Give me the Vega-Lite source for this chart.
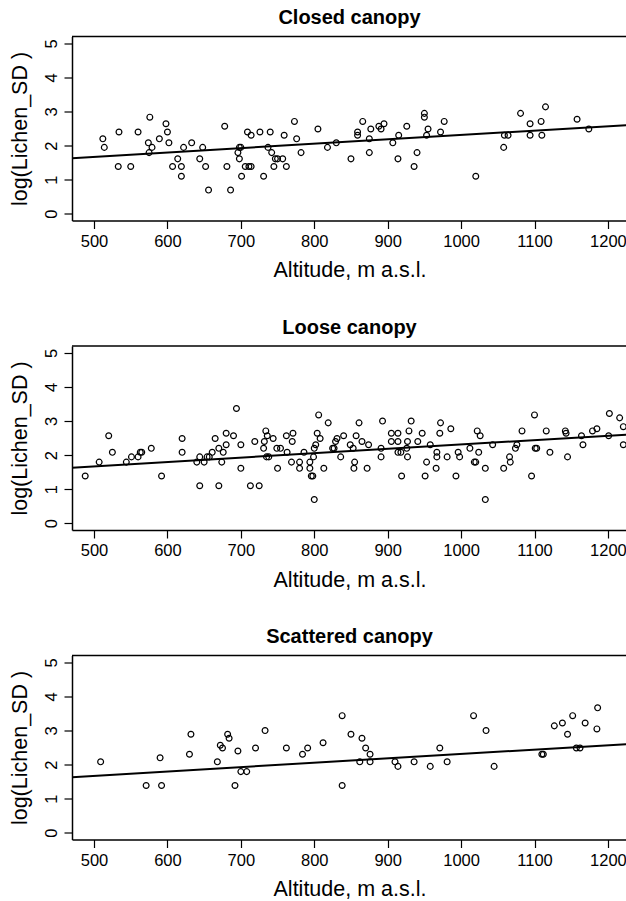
{
  "$schema": "https://vega.github.io/schema/vega-lite/v6.json",
  "background": "white",
  "padding": {"left": 9, "top": 7.5, "right": 0, "bottom": 0},
  "bounds": "flush",
  "spacing": 125.5,
  "datasets": {
    "closed": [
      {"altitude": 512, "log_lichen_sd": 2.197}, {"altitude": 514, "log_lichen_sd": 1.946}, {"altitude": 533, "log_lichen_sd": 1.386},
      {"altitude": 534, "log_lichen_sd": 2.398}, {"altitude": 550, "log_lichen_sd": 1.386}, {"altitude": 560, "log_lichen_sd": 2.398},
      {"altitude": 574, "log_lichen_sd": 2.079}, {"altitude": 575, "log_lichen_sd": 1.792}, {"altitude": 576, "log_lichen_sd": 2.833},
      {"altitude": 579, "log_lichen_sd": 1.946}, {"altitude": 589, "log_lichen_sd": 2.197}, {"altitude": 598, "log_lichen_sd": 2.639},
      {"altitude": 600, "log_lichen_sd": 2.398}, {"altitude": 602, "log_lichen_sd": 2.079}, {"altitude": 607, "log_lichen_sd": 1.386},
      {"altitude": 614, "log_lichen_sd": 1.609}, {"altitude": 619, "log_lichen_sd": 1.386}, {"altitude": 619, "log_lichen_sd": 1.099},
      {"altitude": 622, "log_lichen_sd": 1.946}, {"altitude": 633, "log_lichen_sd": 2.079}, {"altitude": 644, "log_lichen_sd": 1.609},
      {"altitude": 648, "log_lichen_sd": 1.946}, {"altitude": 652, "log_lichen_sd": 1.386}, {"altitude": 656, "log_lichen_sd": 0.693},
      {"altitude": 678, "log_lichen_sd": 2.565}, {"altitude": 681, "log_lichen_sd": 1.386}, {"altitude": 686, "log_lichen_sd": 0.693},
      {"altitude": 696, "log_lichen_sd": 1.792}, {"altitude": 698, "log_lichen_sd": 1.946}, {"altitude": 700, "log_lichen_sd": 1.946},
      {"altitude": 698, "log_lichen_sd": 1.609}, {"altitude": 701, "log_lichen_sd": 1.099}, {"altitude": 706, "log_lichen_sd": 1.386},
      {"altitude": 709, "log_lichen_sd": 2.398}, {"altitude": 711, "log_lichen_sd": 1.386}, {"altitude": 714, "log_lichen_sd": 1.386},
      {"altitude": 714, "log_lichen_sd": 2.303}, {"altitude": 726, "log_lichen_sd": 2.398}, {"altitude": 731, "log_lichen_sd": 1.099},
      {"altitude": 737, "log_lichen_sd": 1.946}, {"altitude": 740, "log_lichen_sd": 2.398}, {"altitude": 742, "log_lichen_sd": 1.792},
      {"altitude": 745, "log_lichen_sd": 1.386}, {"altitude": 747, "log_lichen_sd": 1.609}, {"altitude": 750, "log_lichen_sd": 1.609},
      {"altitude": 757, "log_lichen_sd": 1.609}, {"altitude": 759, "log_lichen_sd": 2.303}, {"altitude": 762, "log_lichen_sd": 1.386},
      {"altitude": 773, "log_lichen_sd": 2.708}, {"altitude": 776, "log_lichen_sd": 2.197}, {"altitude": 782, "log_lichen_sd": 1.792},
      {"altitude": 805, "log_lichen_sd": 2.485}, {"altitude": 818, "log_lichen_sd": 1.946}, {"altitude": 830, "log_lichen_sd": 2.079},
      {"altitude": 850, "log_lichen_sd": 1.609}, {"altitude": 859, "log_lichen_sd": 2.398}, {"altitude": 859, "log_lichen_sd": 2.303},
      {"altitude": 866, "log_lichen_sd": 2.708}, {"altitude": 875, "log_lichen_sd": 2.197}, {"altitude": 875, "log_lichen_sd": 1.792},
      {"altitude": 877, "log_lichen_sd": 2.485}, {"altitude": 888, "log_lichen_sd": 2.565}, {"altitude": 891, "log_lichen_sd": 2.485},
      {"altitude": 895, "log_lichen_sd": 2.639}, {"altitude": 907, "log_lichen_sd": 2.079}, {"altitude": 914, "log_lichen_sd": 1.609},
      {"altitude": 915, "log_lichen_sd": 2.303}, {"altitude": 926, "log_lichen_sd": 2.565}, {"altitude": 936, "log_lichen_sd": 1.386},
      {"altitude": 940, "log_lichen_sd": 1.792}, {"altitude": 950, "log_lichen_sd": 2.944}, {"altitude": 950, "log_lichen_sd": 2.833},
      {"altitude": 953, "log_lichen_sd": 2.303}, {"altitude": 955, "log_lichen_sd": 2.485}, {"altitude": 972, "log_lichen_sd": 2.398},
      {"altitude": 977, "log_lichen_sd": 2.708}, {"altitude": 1020, "log_lichen_sd": 1.099}, {"altitude": 1058, "log_lichen_sd": 1.946},
      {"altitude": 1059, "log_lichen_sd": 2.303}, {"altitude": 1064, "log_lichen_sd": 2.303}, {"altitude": 1081, "log_lichen_sd": 2.944},
      {"altitude": 1094, "log_lichen_sd": 2.639}, {"altitude": 1094, "log_lichen_sd": 2.303}, {"altitude": 1109, "log_lichen_sd": 2.708},
      {"altitude": 1110, "log_lichen_sd": 2.303}, {"altitude": 1115, "log_lichen_sd": 3.135}, {"altitude": 1158, "log_lichen_sd": 2.773},
      {"altitude": 1174, "log_lichen_sd": 2.485}
    ],
    "loose": [
      {"altitude": 488, "log_lichen_sd": 1.386}, {"altitude": 507, "log_lichen_sd": 1.792}, {"altitude": 520, "log_lichen_sd": 2.565},
      {"altitude": 525, "log_lichen_sd": 2.079}, {"altitude": 544, "log_lichen_sd": 1.792}, {"altitude": 551, "log_lichen_sd": 1.946},
      {"altitude": 560, "log_lichen_sd": 1.946}, {"altitude": 563, "log_lichen_sd": 2.079}, {"altitude": 565, "log_lichen_sd": 2.079},
      {"altitude": 578, "log_lichen_sd": 2.197}, {"altitude": 592, "log_lichen_sd": 1.386}, {"altitude": 620, "log_lichen_sd": 2.485},
      {"altitude": 620, "log_lichen_sd": 2.079}, {"altitude": 640, "log_lichen_sd": 1.792}, {"altitude": 644, "log_lichen_sd": 1.946},
      {"altitude": 644, "log_lichen_sd": 1.099}, {"altitude": 650, "log_lichen_sd": 1.792}, {"altitude": 654, "log_lichen_sd": 1.946},
      {"altitude": 657, "log_lichen_sd": 1.946}, {"altitude": 661, "log_lichen_sd": 2.079}, {"altitude": 665, "log_lichen_sd": 2.485},
      {"altitude": 670, "log_lichen_sd": 2.197}, {"altitude": 670, "log_lichen_sd": 1.099}, {"altitude": 674, "log_lichen_sd": 1.792},
      {"altitude": 676, "log_lichen_sd": 2.079}, {"altitude": 680, "log_lichen_sd": 2.639}, {"altitude": 680, "log_lichen_sd": 2.303},
      {"altitude": 690, "log_lichen_sd": 2.565}, {"altitude": 694, "log_lichen_sd": 3.367}, {"altitude": 700, "log_lichen_sd": 2.303},
      {"altitude": 700, "log_lichen_sd": 1.609}, {"altitude": 713, "log_lichen_sd": 1.099}, {"altitude": 719, "log_lichen_sd": 2.398},
      {"altitude": 725, "log_lichen_sd": 1.099}, {"altitude": 731, "log_lichen_sd": 2.197}, {"altitude": 732, "log_lichen_sd": 2.398},
      {"altitude": 734, "log_lichen_sd": 2.708}, {"altitude": 736, "log_lichen_sd": 2.565}, {"altitude": 735, "log_lichen_sd": 1.946},
      {"altitude": 738, "log_lichen_sd": 1.946}, {"altitude": 744, "log_lichen_sd": 2.485}, {"altitude": 749, "log_lichen_sd": 2.197},
      {"altitude": 750, "log_lichen_sd": 1.609}, {"altitude": 754, "log_lichen_sd": 2.197}, {"altitude": 762, "log_lichen_sd": 2.565},
      {"altitude": 763, "log_lichen_sd": 2.079}, {"altitude": 769, "log_lichen_sd": 1.792}, {"altitude": 770, "log_lichen_sd": 2.398},
      {"altitude": 771, "log_lichen_sd": 2.639}, {"altitude": 780, "log_lichen_sd": 1.792}, {"altitude": 780, "log_lichen_sd": 1.609},
      {"altitude": 786, "log_lichen_sd": 2.079}, {"altitude": 794, "log_lichen_sd": 1.792}, {"altitude": 794, "log_lichen_sd": 1.609},
      {"altitude": 796, "log_lichen_sd": 1.386}, {"altitude": 798, "log_lichen_sd": 1.386}, {"altitude": 799, "log_lichen_sd": 1.946},
      {"altitude": 800, "log_lichen_sd": 2.197}, {"altitude": 800, "log_lichen_sd": 0.693}, {"altitude": 802, "log_lichen_sd": 2.303},
      {"altitude": 804, "log_lichen_sd": 2.639}, {"altitude": 806, "log_lichen_sd": 3.178}, {"altitude": 808, "log_lichen_sd": 2.485},
      {"altitude": 813, "log_lichen_sd": 1.609}, {"altitude": 819, "log_lichen_sd": 2.944}, {"altitude": 825, "log_lichen_sd": 2.197},
      {"altitude": 827, "log_lichen_sd": 2.197}, {"altitude": 829, "log_lichen_sd": 2.398}, {"altitude": 831, "log_lichen_sd": 2.485},
      {"altitude": 836, "log_lichen_sd": 1.946}, {"altitude": 840, "log_lichen_sd": 2.565}, {"altitude": 849, "log_lichen_sd": 2.303},
      {"altitude": 853, "log_lichen_sd": 2.197}, {"altitude": 855, "log_lichen_sd": 1.792}, {"altitude": 854, "log_lichen_sd": 1.609},
      {"altitude": 857, "log_lichen_sd": 2.565}, {"altitude": 861, "log_lichen_sd": 2.944}, {"altitude": 865, "log_lichen_sd": 2.398},
      {"altitude": 872, "log_lichen_sd": 1.609}, {"altitude": 874, "log_lichen_sd": 2.303}, {"altitude": 891, "log_lichen_sd": 2.197},
      {"altitude": 891, "log_lichen_sd": 1.946}, {"altitude": 893, "log_lichen_sd": 2.996}, {"altitude": 905, "log_lichen_sd": 2.639},
      {"altitude": 905, "log_lichen_sd": 2.398}, {"altitude": 914, "log_lichen_sd": 2.639}, {"altitude": 914, "log_lichen_sd": 2.398},
      {"altitude": 914, "log_lichen_sd": 2.079}, {"altitude": 918, "log_lichen_sd": 2.079}, {"altitude": 919, "log_lichen_sd": 1.386},
      {"altitude": 926, "log_lichen_sd": 2.197}, {"altitude": 927, "log_lichen_sd": 1.946}, {"altitude": 927, "log_lichen_sd": 2.398},
      {"altitude": 929, "log_lichen_sd": 2.708}, {"altitude": 932, "log_lichen_sd": 2.996}, {"altitude": 941, "log_lichen_sd": 2.398},
      {"altitude": 947, "log_lichen_sd": 2.639}, {"altitude": 951, "log_lichen_sd": 1.386}, {"altitude": 953, "log_lichen_sd": 1.792},
      {"altitude": 958, "log_lichen_sd": 2.303}, {"altitude": 966, "log_lichen_sd": 1.609}, {"altitude": 967, "log_lichen_sd": 2.079},
      {"altitude": 967, "log_lichen_sd": 1.946}, {"altitude": 971, "log_lichen_sd": 2.639}, {"altitude": 972, "log_lichen_sd": 2.944},
      {"altitude": 981, "log_lichen_sd": 1.946}, {"altitude": 986, "log_lichen_sd": 2.773}, {"altitude": 993, "log_lichen_sd": 1.386},
      {"altitude": 996, "log_lichen_sd": 2.079}, {"altitude": 998, "log_lichen_sd": 1.946}, {"altitude": 1012, "log_lichen_sd": 2.197},
      {"altitude": 1018, "log_lichen_sd": 1.792}, {"altitude": 1020, "log_lichen_sd": 1.792}, {"altitude": 1022, "log_lichen_sd": 2.708},
      {"altitude": 1024, "log_lichen_sd": 2.079}, {"altitude": 1026, "log_lichen_sd": 2.565}, {"altitude": 1033, "log_lichen_sd": 1.609},
      {"altitude": 1033, "log_lichen_sd": 0.693}, {"altitude": 1043, "log_lichen_sd": 2.303}, {"altitude": 1058, "log_lichen_sd": 1.609},
      {"altitude": 1066, "log_lichen_sd": 1.946}, {"altitude": 1067, "log_lichen_sd": 1.792}, {"altitude": 1074, "log_lichen_sd": 2.197},
      {"altitude": 1076, "log_lichen_sd": 2.303}, {"altitude": 1083, "log_lichen_sd": 2.708}, {"altitude": 1096, "log_lichen_sd": 1.386},
      {"altitude": 1100, "log_lichen_sd": 3.178}, {"altitude": 1101, "log_lichen_sd": 2.197}, {"altitude": 1103, "log_lichen_sd": 2.197},
      {"altitude": 1116, "log_lichen_sd": 2.708}, {"altitude": 1121, "log_lichen_sd": 2.079}, {"altitude": 1142, "log_lichen_sd": 2.708},
      {"altitude": 1143, "log_lichen_sd": 2.639}, {"altitude": 1145, "log_lichen_sd": 1.946}, {"altitude": 1164, "log_lichen_sd": 2.565},
      {"altitude": 1166, "log_lichen_sd": 2.303}, {"altitude": 1179, "log_lichen_sd": 2.708}, {"altitude": 1185, "log_lichen_sd": 2.773},
      {"altitude": 1201, "log_lichen_sd": 2.565}, {"altitude": 1202, "log_lichen_sd": 3.219}, {"altitude": 1216, "log_lichen_sd": 3.091},
      {"altitude": 1221, "log_lichen_sd": 2.833}, {"altitude": 1221, "log_lichen_sd": 2.303}
    ],
    "scattered": [
      {"altitude": 509, "log_lichen_sd": 2.079}, {"altitude": 571, "log_lichen_sd": 1.386}, {"altitude": 590, "log_lichen_sd": 2.197},
      {"altitude": 592, "log_lichen_sd": 1.386}, {"altitude": 630, "log_lichen_sd": 2.303}, {"altitude": 632, "log_lichen_sd": 2.890},
      {"altitude": 668, "log_lichen_sd": 2.079}, {"altitude": 672, "log_lichen_sd": 2.565}, {"altitude": 675, "log_lichen_sd": 2.485},
      {"altitude": 682, "log_lichen_sd": 2.890}, {"altitude": 684, "log_lichen_sd": 2.773}, {"altitude": 692, "log_lichen_sd": 1.386},
      {"altitude": 696, "log_lichen_sd": 2.398}, {"altitude": 700, "log_lichen_sd": 1.792}, {"altitude": 708, "log_lichen_sd": 1.792},
      {"altitude": 720, "log_lichen_sd": 2.485}, {"altitude": 733, "log_lichen_sd": 2.996}, {"altitude": 762, "log_lichen_sd": 2.485},
      {"altitude": 784, "log_lichen_sd": 2.303}, {"altitude": 791, "log_lichen_sd": 2.485}, {"altitude": 812, "log_lichen_sd": 2.639},
      {"altitude": 838, "log_lichen_sd": 3.434}, {"altitude": 838, "log_lichen_sd": 1.386}, {"altitude": 850, "log_lichen_sd": 2.890},
      {"altitude": 862, "log_lichen_sd": 2.079}, {"altitude": 865, "log_lichen_sd": 2.773}, {"altitude": 870, "log_lichen_sd": 2.485},
      {"altitude": 876, "log_lichen_sd": 2.303}, {"altitude": 876, "log_lichen_sd": 2.079}, {"altitude": 910, "log_lichen_sd": 2.079},
      {"altitude": 914, "log_lichen_sd": 1.946}, {"altitude": 936, "log_lichen_sd": 2.079}, {"altitude": 958, "log_lichen_sd": 1.946},
      {"altitude": 971, "log_lichen_sd": 2.485}, {"altitude": 981, "log_lichen_sd": 2.079}, {"altitude": 1017, "log_lichen_sd": 3.434},
      {"altitude": 1034, "log_lichen_sd": 2.996}, {"altitude": 1045, "log_lichen_sd": 1.946}, {"altitude": 1110, "log_lichen_sd": 2.303},
      {"altitude": 1112, "log_lichen_sd": 2.303}, {"altitude": 1127, "log_lichen_sd": 3.135}, {"altitude": 1138, "log_lichen_sd": 3.219},
      {"altitude": 1145, "log_lichen_sd": 2.890}, {"altitude": 1152, "log_lichen_sd": 3.434}, {"altitude": 1157, "log_lichen_sd": 2.485},
      {"altitude": 1162, "log_lichen_sd": 2.485}, {"altitude": 1169, "log_lichen_sd": 3.219}, {"altitude": 1185, "log_lichen_sd": 3.045},
      {"altitude": 1186, "log_lichen_sd": 3.664}
    ],
    "fit": [
      {"altitude": 470, "fit": 1.63},
      {"altitude": 1226, "fit": 2.6}
    ],
    "frame": [
      {"edge": "top"}
    ]
  },
  "vconcat": [
    {
      "title": {"text": "Closed canopy"},
      "width": 555,
      "height": 184,
      "layer": [
        {
          "data": {"name": "closed"},
          "mark": {"type": "point", "shape": "circle", "filled": false, "color": "black", "strokeWidth": 1.2, "size": 34, "opacity": 1},
          "encoding": {
            "x": {"field": "altitude", "type": "quantitative", "scale": {"domain": [470, 1226], "nice": false, "zero": false},
              "axis": {"title": "Altitude, m a.s.l.", "values": [500, 600, 700, 800, 900, 1000, 1100, 1200], "tickCount": 8, "format": "d", "labelOverlap": false, "labelFlush": false, "tickSize": 8, "labelPadding": 4.5, "titlePadding": 10}},
            "y": {"field": "log_lichen_sd", "type": "quantitative", "scale": {"domain": [-0.2, 5.2], "nice": false, "zero": false},
              "axis": {"title": "log(Lichen_SD )", "values": [0, 1, 2, 3, 4, 5], "tickCount": 6, "format": "d", "labelOverlap": false, "labelFlush": false, "labelAngle": -90, "labelAlign": "center", "labelBaseline": "bottom", "tickSize": 8, "labelPadding": 5, "titlePadding": 11.2}}
          }
        },
        {
          "data": {"name": "fit"},
          "mark": {"type": "line", "color": "black", "strokeWidth": 2, "clip": true},
          "encoding": {
            "x": {"field": "altitude", "type": "quantitative"},
            "y": {"field": "fit", "type": "quantitative"}
          }
        },
        {
          "data": {"name": "frame"},
          "mark": {"type": "rule", "color": "black", "strokeWidth": 1.5},
          "encoding": {"y": {"datum": 5.2}}
        }
      ]
    },
    {
      "title": {"text": "Loose canopy"},
      "width": 555,
      "height": 184,
      "layer": [
        {
          "data": {"name": "loose"},
          "mark": {"type": "point", "shape": "circle", "filled": false, "color": "black", "strokeWidth": 1.2, "size": 34, "opacity": 1},
          "encoding": {
            "x": {"field": "altitude", "type": "quantitative", "scale": {"domain": [470, 1226], "nice": false, "zero": false},
              "axis": {"title": "Altitude, m a.s.l.", "values": [500, 600, 700, 800, 900, 1000, 1100, 1200], "tickCount": 8, "format": "d", "labelOverlap": false, "labelFlush": false, "tickSize": 8, "labelPadding": 4.5, "titlePadding": 10}},
            "y": {"field": "log_lichen_sd", "type": "quantitative", "scale": {"domain": [-0.2, 5.2], "nice": false, "zero": false},
              "axis": {"title": "log(Lichen_SD )", "values": [0, 1, 2, 3, 4, 5], "tickCount": 6, "format": "d", "labelOverlap": false, "labelFlush": false, "labelAngle": -90, "labelAlign": "center", "labelBaseline": "bottom", "tickSize": 8, "labelPadding": 5, "titlePadding": 11.2}}
          }
        },
        {
          "data": {"name": "fit"},
          "mark": {"type": "line", "color": "black", "strokeWidth": 2, "clip": true},
          "encoding": {
            "x": {"field": "altitude", "type": "quantitative"},
            "y": {"field": "fit", "type": "quantitative"}
          }
        },
        {
          "data": {"name": "frame"},
          "mark": {"type": "rule", "color": "black", "strokeWidth": 1.5},
          "encoding": {"y": {"datum": 5.2}}
        }
      ]
    },
    {
      "title": {"text": "Scattered canopy"},
      "width": 555,
      "height": 184,
      "layer": [
        {
          "data": {"name": "scattered"},
          "mark": {"type": "point", "shape": "circle", "filled": false, "color": "black", "strokeWidth": 1.2, "size": 34, "opacity": 1},
          "encoding": {
            "x": {"field": "altitude", "type": "quantitative", "scale": {"domain": [470, 1226], "nice": false, "zero": false},
              "axis": {"title": "Altitude, m a.s.l.", "values": [500, 600, 700, 800, 900, 1000, 1100, 1200], "tickCount": 8, "format": "d", "labelOverlap": false, "labelFlush": false, "tickSize": 8, "labelPadding": 4.5, "titlePadding": 10}},
            "y": {"field": "log_lichen_sd", "type": "quantitative", "scale": {"domain": [-0.2, 5.2], "nice": false, "zero": false},
              "axis": {"title": "log(Lichen_SD )", "values": [0, 1, 2, 3, 4, 5], "tickCount": 6, "format": "d", "labelOverlap": false, "labelFlush": false, "labelAngle": -90, "labelAlign": "center", "labelBaseline": "bottom", "tickSize": 8, "labelPadding": 5, "titlePadding": 11.2}}
          }
        },
        {
          "data": {"name": "fit"},
          "mark": {"type": "line", "color": "black", "strokeWidth": 2, "clip": true},
          "encoding": {
            "x": {"field": "altitude", "type": "quantitative"},
            "y": {"field": "fit", "type": "quantitative"}
          }
        },
        {
          "data": {"name": "frame"},
          "mark": {"type": "rule", "color": "black", "strokeWidth": 1.5},
          "encoding": {"y": {"datum": 5.2}}
        }
      ]
    }
  ],
  "config": {
    "view": {"stroke": null},
    "font": "Liberation Sans, Arial, sans-serif",
    "axis": {
      "grid": false,
      "domain": true,
      "domainColor": "black",
      "domainWidth": 1.5,
      "ticks": true,
      "tickColor": "black",
      "tickWidth": 1.2,
      "labelColor": "black",
      "labelFont": "Liberation Sans, Arial, sans-serif",
      "labelFontSize": 16.5,
      "titleColor": "black",
      "titleFont": "Liberation Sans, Arial, sans-serif",
      "titleFontSize": 21.5,
      "titleFontWeight": "normal"
    },
    "title": {
      "font": "Liberation Sans, Arial, sans-serif",
      "fontSize": 20,
      "fontWeight": "bold",
      "color": "black",
      "anchor": "middle",
      "baseline": "bottom",
      "offset": 7.4
    }
  }
}
